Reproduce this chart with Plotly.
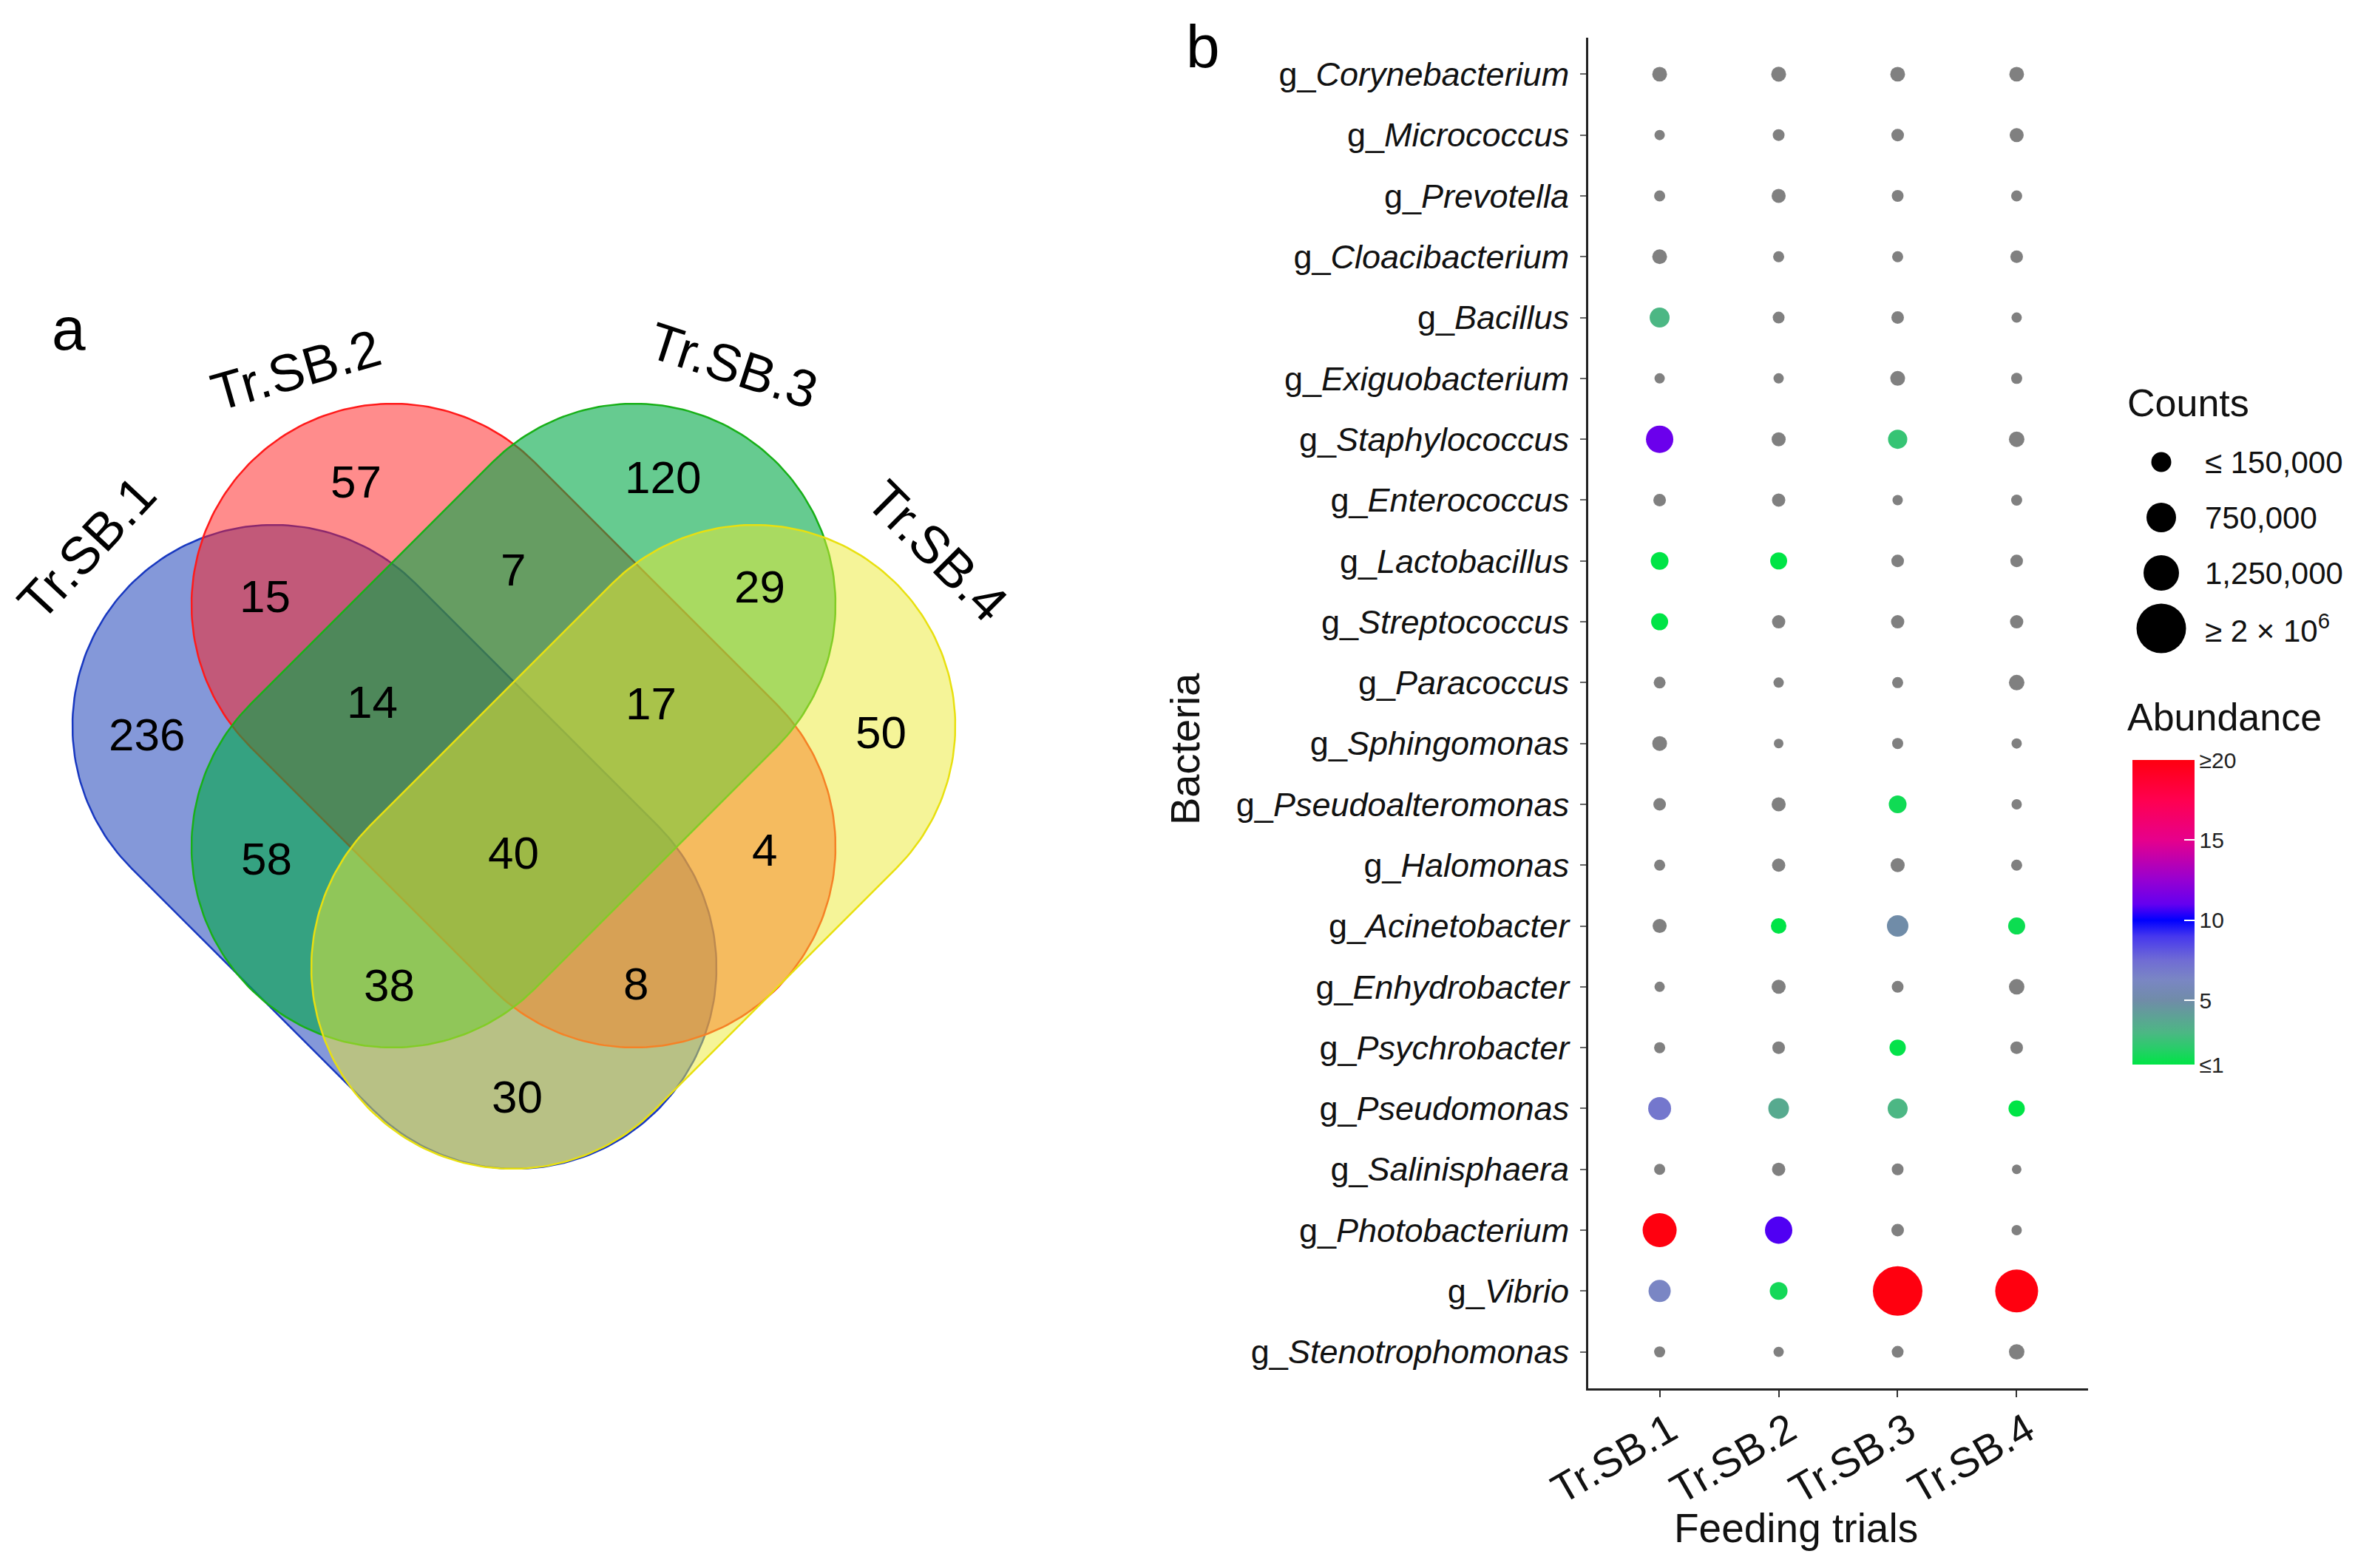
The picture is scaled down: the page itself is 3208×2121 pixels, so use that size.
import numpy as np
import plotly.graph_objects as go

W, H = 3208, 2121
OFF = 8  # page offset of the plot div

# ---------------- data ----------------
TRIALS = ["Tr.SB.1", "Tr.SB.2", "Tr.SB.3", "Tr.SB.4"]
GENERA = ["Corynebacterium", "Micrococcus", "Prevotella", "Cloacibacterium", "Bacillus",
          "Exiguobacterium", "Staphylococcus", "Enterococcus", "Lactobacillus", "Streptococcus",
          "Paracoccus", "Sphingomonas", "Pseudoalteromonas", "Halomonas", "Acinetobacter",
          "Enhydrobacter", "Psychrobacter", "Pseudomonas", "Salinisphaera", "Photobacterium",
          "Vibrio", "Stenotrophomonas"]

COUNTS_T1 = [178000, 87000, 100000, 178000, 325000, 87000, 610000, 129000, 257000, 236000, 114000,
             178000, 129000, 100000, 161000, 87000, 100000, 428000, 100000, 943000, 401000, 100000]
COUNTS_T2 = [180000, 114000, 161000, 100000, 114000, 87000, 161000, 144000, 236000, 144000, 87000,
             75000, 161000, 144000, 196000, 161000, 129000, 349000, 144000, 610000, 257000, 87000]
COUNTS_T3 = [177000, 129000, 114000, 100000, 129000, 178000, 301000, 87000, 129000, 144000, 100000,
             100000, 257000, 161000, 375000, 114000, 216000, 325000, 114000, 129000, 2000000, 114000]
COUNTS_T4 = [176000, 161000, 100000, 129000, 87000, 100000, 196000, 100000, 129000, 144000, 196000,
             87000, 87000, 100000, 236000, 196000, 129000, 216000, 75000, 87000, 1500000, 196000]

N = None
ABUND_T1 = [N, N, N, N, 3.0, N, 11.2, N, 1.0, 1.0, N, N, N, N, N, N, N, 7.0, N, 22.0, 6.3, N]
ABUND_T2 = [N, N, N, N, N, N, N, N, 1.0, N, N, N, N, N, 1.0, N, N, 3.6, N, 10.8, 1.5, N]
ABUND_T3 = [N, N, N, N, N, N, 2.4, N, N, N, N, N, 1.4, N, 5.0, N, 1.1, 3.0, N, N, 35.0, N]
ABUND_T4 = [N, N, N, N, N, N, N, N, N, N, N, N, N, N, 1.3, N, N, 1.0, N, N, 28.0, N]

COUNT_BREAKS = [150000, 750000, 1250000, 2000000]
COUNT_BREAK_LABELS = ["≤ 150,000", "750,000", "1,250,000", "≥ 2 × 10<sup>6</sup>"]
ABUND_TICKS = [1, 5, 10, 15, 20]
ABUND_TICK_LABELS = ["≤1", "5", "10", "15", "≥20"]

VENN_SETS = ["Tr.SB.1", "Tr.SB.2", "Tr.SB.3", "Tr.SB.4"]
# region counts: 1, 2, 3, 4, 12, 23, 34, 123, 234, 13, 1234, 24, 134, 124, 14
VENN_COUNTS = [236, 57, 120, 50, 15, 7, 29, 14, 17, 58, 40, 4, 38, 8, 30]

# ---------------- layout constants (page pixels) ----------------
FONT = "Liberation Sans"
VENN_R = 272
VENN_SHAPES = [  # (upper centre, lower centre)
    ((370, 982), (697, 1309)),
    ((531, 818), (858, 1145)),
    ((858, 818), (531, 1145)),
    ((1020, 982), (693, 1309)),
]
VENN_FILL = ["rgba(9,49,179,0.5)", "rgba(255,25,25,0.5)", "rgba(0,168,70,0.6)", "rgba(235,234,49,0.5)"]
VENN_LINE = ["#1838c0", "#ff1a1a", "#18b018", "#e8e010"]
VENN_REGION_POS = [(198, 993), (481, 651), (896, 645), (1191, 990), (358, 806), (694, 770),
                   (1027, 793), (503, 949), (880, 951), (360, 1161), (694, 1153), (1034, 1149),
                   (526, 1332), (860, 1330), (699, 1483)]
VENN_LABEL_POS = [(117, 741, -47), (400, 500, -16), (992, 494, 18), (1268, 745, 45)]

LEGEND_KEY_SIZES = [27, 40, 48, 67]
LEGEND_Y = [625, 700, 775, 850]

X0, X1 = 2148, 2824
Y0, Y1 = 51, 1878

COLORSCALE = [
    [0.0, "rgb(0,228,70)"], [0.0526, "rgb(40,205,105)"], [0.105, "rgb(76,183,132)"],
    [0.2105, "rgb(112,140,168)"], [0.279, "rgb(122,134,196)"], [0.342, "rgb(112,108,212)"],
    [0.421, "rgb(70,55,238)"], [0.4737, "rgb(0,0,255)"], [0.526, "rgb(100,0,240)"],
    [0.605, "rgb(150,0,210)"], [0.737, "rgb(230,0,140)"], [0.868, "rgb(255,0,80)"],
    [1.0, "rgb(255,0,15)"],
]


def dot_size(c):
    return 67.0 * np.sqrt(np.asarray(c, dtype=float) / 2e6)


def capsule(p1, p2, r, n=120):
    (x1, y1), (x2, y2) = p1, p2
    th = np.arctan2(y2 - y1, x2 - x1)
    a2 = np.linspace(th - np.pi / 2, th + np.pi / 2, n)
    a1 = np.linspace(th + np.pi / 2, th + 3 * np.pi / 2, n)
    xs = np.concatenate([x2 + r * np.cos(a2), x1 + r * np.cos(a1), [x2 + r * np.cos(a2[0])]])
    ys = np.concatenate([y2 + r * np.sin(a2), y1 + r * np.sin(a1), [y2 + r * np.sin(a2[0])]])
    return xs, ys


fig = go.Figure()

# ---------------- Venn (pixel axes x2/y2) ----------------
for i, (p1, p2) in enumerate(VENN_SHAPES):
    xs, ys = capsule(p1, p2, VENN_R)
    fig.add_trace(go.Scatter(x=xs, y=ys, mode="lines", fill="toself", fillcolor=VENN_FILL[i],
                             line=dict(color=VENN_LINE[i], width=2.5), xaxis="x2", yaxis="y2",
                             hoverinfo="skip", showlegend=False))

annotations = []
for cnt, (px, py) in zip(VENN_COUNTS, VENN_REGION_POS):
    annotations.append(dict(x=px, y=py, xref="x2", yref="y2", text=str(cnt), showarrow=False,
                            font=dict(family=FONT, size=62, color="black"),
                            xanchor="center", yanchor="middle"))
for name, (px, py, ang) in zip(VENN_SETS, VENN_LABEL_POS):
    annotations.append(dict(x=px, y=py, xref="x2", yref="y2", text=name, showarrow=False,
                            textangle=ang, font=dict(family=FONT, size=71, color="black"),
                            xanchor="center", yanchor="middle"))
annotations.append(dict(x=93, y=444, xref="x2", yref="y2", text="a", showarrow=False,
                        font=dict(family=FONT, size=82, color="black")))
annotations.append(dict(x=1627, y=62, xref="x2", yref="y2", text="b", showarrow=False,
                        font=dict(family=FONT, size=82, color="black")))

# ---------------- dot plot ----------------
counts = [COUNTS_T1, COUNTS_T2, COUNTS_T3, COUNTS_T4]
abund = [ABUND_T1, ABUND_T2, ABUND_T3, ABUND_T4]
gx, gy, gs, cx, cy, cs, cv = [], [], [], [], [], [], []
for t, trial in enumerate(TRIALS):
    for g, genus in enumerate(GENERA):
        lab = "g_<i>" + genus + "</i>"
        if abund[t][g] is None:
            gx.append(trial); gy.append(lab); gs.append(counts[t][g])
        else:
            cx.append(trial); cy.append(lab); cs.append(counts[t][g]); cv.append(abund[t][g])

fig.add_trace(go.Scatter(x=gx, y=gy, mode="markers",
                         marker=dict(size=dot_size(gs), color="#808080", opacity=1,
                                     line=dict(width=0)),
                         showlegend=False))
fig.add_trace(go.Scatter(x=cx, y=cy, mode="markers",
                         marker=dict(size=dot_size(cs), color=cv, colorscale=COLORSCALE, opacity=1,
                                     cmin=1, cmax=20, line=dict(width=0), showscale=True,
                                     colorbar=dict(thickness=84, thicknessmode="pixels",
                                                   len=412, lenmode="pixels",
                                                   x=(2884 - OFF) / W, xanchor="left",
                                                   y=1 - (1028 - OFF) / H, yanchor="top",
                                                   xpad=0, ypad=0, outlinewidth=0,
                                                   tickmode="array", tickvals=ABUND_TICKS,
                                                   ticktext=ABUND_TICK_LABELS,
                                                   ticks="inside", ticklen=14, tickcolor="white",
                                                   tickwidth=2,
                                                   tickfont=dict(family=FONT, size=30, color="#222"))),
                         showlegend=False))

# size legend
fig.add_trace(go.Scatter(x=[2923] * 4, y=LEGEND_Y, mode="markers", xaxis="x2", yaxis="y2",
                         marker=dict(size=LEGEND_KEY_SIZES, color="black", opacity=1,
                                     line=dict(width=0)),
                         hoverinfo="skip", showlegend=False))
for lab, yy in zip(COUNT_BREAK_LABELS, LEGEND_Y):
    annotations.append(dict(x=2980, y=yy, xref="x2", yref="y2", text=lab, showarrow=False,
                            xanchor="left", yanchor="middle",
                            font=dict(family=FONT, size=42, color="#111")))
annotations.append(dict(x=2875, y=545, xref="x2", yref="y2", text="Counts", showarrow=False,
                        xanchor="left", yanchor="middle", font=dict(family=FONT, size=52, color="#111")))
annotations.append(dict(x=2875, y=970, xref="x2", yref="y2", text="Abundance", showarrow=False,
                        xanchor="left", yanchor="middle", font=dict(family=FONT, size=52, color="#111")))
annotations.append(dict(x=1602, y=1013, xref="x2", yref="y2", text="Bacteria", showarrow=False,
                        textangle=-90, xanchor="center", yanchor="middle",
                        font=dict(family=FONT, size=56, color="#111")))
annotations.append(dict(x=2429, y=2067, xref="x2", yref="y2", text="Feeding trials", showarrow=False,
                        xanchor="center", yanchor="middle", font=dict(family=FONT, size=55, color="#111")))

fig.update_layout(
    width=W, height=H, autosize=False,
    margin=dict(l=0, r=0, t=0, b=0, pad=0, autoexpand=False),
    paper_bgcolor="white", plot_bgcolor="rgba(0,0,0,0)",
    showlegend=False,
    xaxis=dict(domain=[(X0 - OFF) / W, (X1 - OFF) / W], anchor="y", type="category",
               categoryorder="array", categoryarray=TRIALS, range=[-0.6, 3.6],
               showline=True, linecolor="#222", linewidth=2.7, mirror=False,
               showgrid=False, zeroline=False, ticks="outside", ticklen=9, tickwidth=2.2,
               tickcolor="#333", tickangle=-30, automargin=False,
               ticklabelstandoff=-10, ticklabelshift=14,
               tickfont=dict(family=FONT, size=56, color="#111")),
    yaxis=dict(domain=[1 - (Y1 - OFF) / H, 1 - (Y0 - OFF) / H], anchor="x", type="category",
               categoryorder="array", categoryarray=["g_<i>" + g + "</i>" for g in GENERA[::-1]],
               range=[-0.6, 21.6], automargin=False,
               showline=True, linecolor="#222", linewidth=2.7, mirror=False,
               showgrid=False, zeroline=False, ticks="outside", ticklen=8, tickwidth=1.5,
               tickcolor="#666", ticklabelstandoff=6,
               tickfont=dict(family=FONT, size=45, color="#111")),
    xaxis2=dict(domain=[0, 1], anchor="y2", range=[OFF, W + OFF], visible=False, fixedrange=True),
    yaxis2=dict(domain=[0, 1], anchor="x2", range=[H + OFF, OFF], visible=False, fixedrange=True),
    annotations=annotations,
)

fig.write_html("out.html")
